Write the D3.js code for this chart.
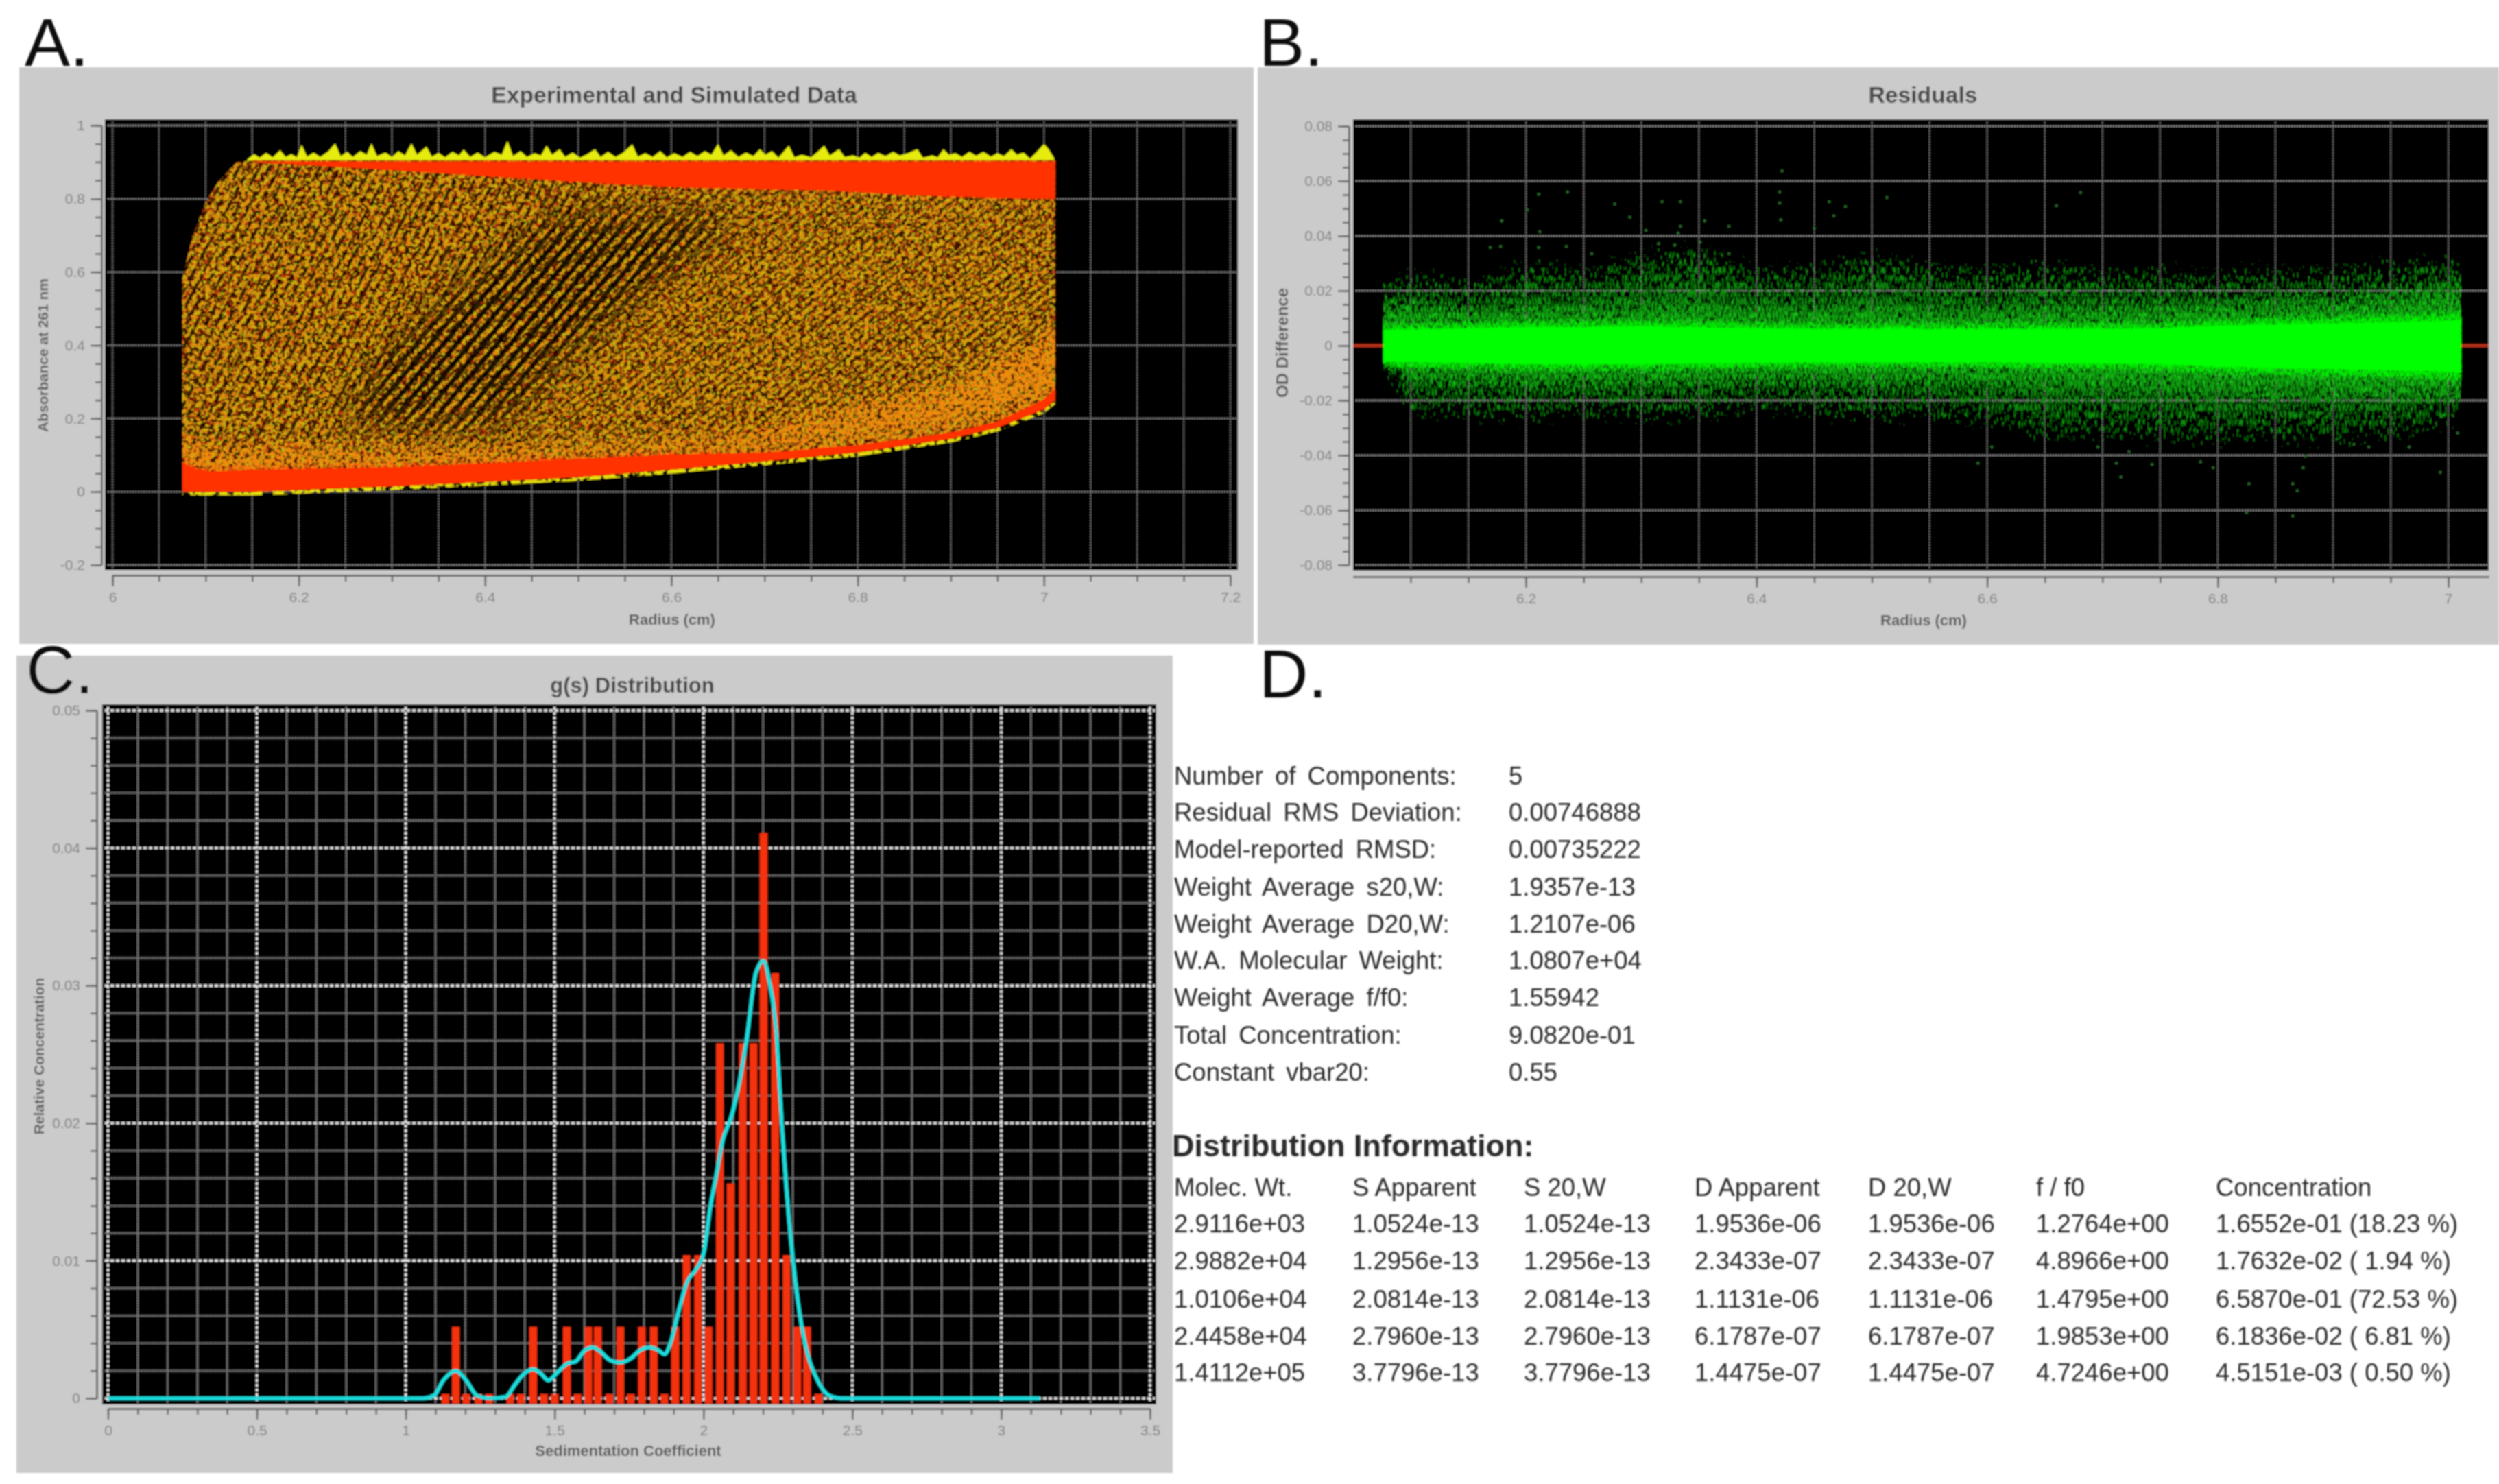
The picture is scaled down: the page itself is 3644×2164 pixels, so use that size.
<!DOCTYPE html>
<html>
<head>
<meta charset="utf-8">
<title>Sedimentation fit report</title>
<script src="https://cdn.jsdelivr.net/npm/d3@7"></script>
<style>
  html, body { margin: 0; padding: 0; background: #fff; }
  svg { display: block; }
  text { font-family: "Liberation Sans", Arial, sans-serif; }
</style>
</head>
<body>
<div id="chart"></div>
<script>
// ---- panel A: values ----
const envR       = [6.075, 6.086, 6.100, 6.114, 6.133, 6.152, 6.174, 6.300, 6.400, 6.500, 6.600, 6.700, 6.800, 6.900, 6.950, 7.000, 7.012];
const envTop     = [0.583, 0.698, 0.790, 0.848, 0.899, 0.905, 0.905, 0.905, 0.905, 0.905, 0.905, 0.905, 0.905, 0.905, 0.905, 0.905, 0.905];
const envBottom  = [0.000, 0.000, 0.000, 0.000, 0.000, 0.000, 0.002, 0.015, 0.027, 0.040, 0.060, 0.083, 0.107, 0.145, 0.175, 0.225, 0.250];
const redLowTop  = [0.088, 0.075, 0.064, 0.064, 0.066, 0.068, 0.069, 0.075, 0.086, 0.098, 0.110, 0.115, 0.135, 0.170, 0.200, 0.260, 0.290];
const denseTop   = [0.170, 0.160, 0.150, 0.150, 0.150, 0.150, 0.150, 0.145, 0.145, 0.150, 0.165, 0.200, 0.260, 0.320, 0.380, 0.450, 0.470];
const plateauR   = [6.150, 6.180, 6.350, 6.537, 6.616, 6.771, 6.861, 6.940, 7.012];
const plateauLow = [0.900, 0.896, 0.870, 0.840, 0.831, 0.822, 0.809, 0.803, 0.800];
const noiseR     = [6.145, 6.152, 6.158, 6.165, 6.172, 6.180, 6.186, 6.192, 6.198, 6.203, 6.209, 6.216, 6.223, 6.232, 6.239, 6.245, 6.252, 6.258, 6.266, 6.273, 6.278, 6.284, 6.293, 6.300, 6.307, 6.314, 6.321, 6.327, 6.337, 6.343, 6.350, 6.357, 6.365, 6.372, 6.377, 6.384, 6.392, 6.400, 6.410, 6.418, 6.424, 6.430, 6.438, 6.445, 6.453, 6.460, 6.466, 6.472, 6.480, 6.486, 6.494, 6.502, 6.510, 6.518, 6.524, 6.532, 6.540, 6.548, 6.558, 6.564, 6.572, 6.580, 6.588, 6.595, 6.603, 6.612, 6.620, 6.628, 6.636, 6.643, 6.650, 6.656, 6.664, 6.672, 6.680, 6.688, 6.695, 6.701, 6.708, 6.715, 6.726, 6.732, 6.740, 6.750, 6.757, 6.764, 6.770, 6.780, 6.786, 6.795, 6.802, 6.808, 6.815, 6.822, 6.830, 6.838, 6.845, 6.854, 6.864, 6.870, 6.880, 6.886, 6.892, 6.898, 6.905, 6.912, 6.920, 6.927, 6.935, 6.943, 6.950, 6.957, 6.965, 6.971, 6.978, 6.985, 6.993, 7.000, 7.005, 7.011];
const noiseTop   = [0.908, 0.922, 0.912, 0.925, 0.913, 0.932, 0.914, 0.922, 0.913, 0.947, 0.915, 0.926, 0.914, 0.930, 0.951, 0.916, 0.928, 0.914, 0.930, 0.920, 0.951, 0.916, 0.926, 0.914, 0.930, 0.918, 0.951, 0.920, 0.942, 0.915, 0.925, 0.913, 0.928, 0.918, 0.934, 0.914, 0.926, 0.913, 0.928, 0.920, 0.958, 0.916, 0.930, 0.914, 0.924, 0.918, 0.945, 0.920, 0.935, 0.914, 0.926, 0.912, 0.922, 0.935, 0.914, 0.928, 0.914, 0.925, 0.948, 0.915, 0.924, 0.914, 0.930, 0.913, 0.924, 0.914, 0.928, 0.916, 0.930, 0.920, 0.949, 0.918, 0.932, 0.914, 0.926, 0.916, 0.935, 0.920, 0.930, 0.912, 0.945, 0.913, 0.920, 0.913, 0.928, 0.945, 0.918, 0.935, 0.914, 0.918, 0.912, 0.925, 0.914, 0.925, 0.916, 0.928, 0.918, 0.924, 0.935, 0.912, 0.918, 0.913, 0.935, 0.920, 0.924, 0.914, 0.928, 0.917, 0.928, 0.915, 0.924, 0.916, 0.935, 0.920, 0.926, 0.909, 0.930, 0.949, 0.935, 0.910];
const clearVal   = [0.180, 0.350, 0.519, 0.620, 0.760];
const clearLeft  = [6.245, 6.285, 6.349, 6.400, 6.470];
const clearRight = [6.420, 6.480, 6.560, 6.610, 6.680];
const splitVal   = [-0.010, 0.219, 0.519, 0.719, 0.910];
const splitR     = [6.200, 6.255, 6.349, 6.457, 6.620];

// ---- panel B ----
const residR   = [6.076, 6.100, 6.150, 6.200, 6.250, 6.300, 6.350, 6.400, 6.450, 6.500, 6.550, 6.600, 6.650, 6.700, 6.750, 6.800, 6.850, 6.900, 6.950, 7.000, 7.011];
const coreTop  = [0.0065, 0.0065, 0.0070, 0.0075, 0.0075, 0.0078, 0.0075, 0.0070, 0.0068, 0.0068, 0.0068, 0.0068, 0.0068, 0.0068, 0.0070, 0.0080, 0.0085, 0.0090, 0.0095, 0.0100, 0.0105];
const coreLow  = [-0.0065, -0.0068, -0.0070, -0.0075, -0.0075, -0.0075, -0.0072, -0.0070, -0.0068, -0.0068, -0.0068, -0.0068, -0.0070, -0.0072, -0.0075, -0.0085, -0.0090, -0.0095, -0.0100, -0.0105, -0.0110];
const midTop   = [0.0190, 0.0180, 0.0160, 0.0170, 0.0170, 0.0180, 0.0180, 0.0170, 0.0170, 0.0170, 0.0165, 0.0165, 0.0170, 0.0175, 0.0180, 0.0190, 0.0190, 0.0200, 0.0210, 0.0240, 0.0260];
const midLow   = [-0.0090, -0.0160, -0.0160, -0.0170, -0.0170, -0.0170, -0.0165, -0.0160, -0.0160, -0.0165, -0.0165, -0.0170, -0.0175, -0.0185, -0.0190, -0.0200, -0.0210, -0.0210, -0.0220, -0.0220, -0.0220];
const farTop   = [0.0240, 0.0270, 0.0250, 0.0310, 0.0290, 0.0340, 0.0370, 0.0290, 0.0300, 0.0340, 0.0310, 0.0290, 0.0310, 0.0280, 0.0290, 0.0280, 0.0290, 0.0290, 0.0310, 0.0330, 0.0340];
const farLow   = [-0.0100, -0.0260, -0.0270, -0.0280, -0.0260, -0.0280, -0.0270, -0.0240, -0.0260, -0.0280, -0.0270, -0.0300, -0.0340, -0.0340, -0.0350, -0.0360, -0.0350, -0.0360, -0.0340, -0.0300, -0.0260];
const strayR   = [6.422, 6.211, 6.236, 6.201, 6.277, 6.290, 6.318, 6.334, 6.420, 6.420, 6.421, 6.463, 6.477, 6.467, 6.513, 6.179, 6.334, 6.355, 6.376, 6.450, 6.212, 6.332, 6.304, 6.169, 6.178, 6.211, 6.235, 6.257, 6.315, 6.329, 6.351, 6.355, 6.376, 6.681, 6.660, 6.716, 6.865, 6.869, 6.827, 6.865, 6.825, 6.796, 6.712, 6.743, 6.785, 6.874, 6.993, 6.876, 6.592, 6.604, 6.696, 6.723, 6.918, 6.931, 6.966, 7.008];
const strayVal = [0.0637, 0.0552, 0.0560, 0.0495, 0.0516, 0.0468, 0.0525, 0.0525, 0.0560, 0.0520, 0.0459, 0.0525, 0.0507, 0.0473, 0.0540, 0.0455, 0.0435, 0.0455, 0.0435, 0.0430, 0.0415, 0.0410, 0.0420, 0.0358, 0.0362, 0.0358, 0.0362, 0.0335, 0.0372, 0.0367, 0.0377, 0.0325, 0.0335, 0.0558, 0.0510, -0.0479, -0.0504, -0.0529, -0.0504, -0.0621, -0.0609, -0.0445, -0.0428, -0.0433, -0.0424, -0.0445, -0.0462, -0.0403, -0.0428, -0.0370, -0.0370, -0.0386, -0.0360, -0.0370, -0.0370, -0.0319];

// ---- panel C ----
const barS    = [1.168, 1.428, 1.541, 1.613, 1.645, 1.721, 1.793, 1.833, 1.905, 1.943, 1.982, 2.017, 2.055, 2.091, 2.132, 2.168, 2.202, 2.241, 2.279, 2.315, 2.348, 1.133, 1.203, 1.244, 1.280, 1.351, 1.387, 1.464, 1.500, 1.577, 1.684, 1.756, 1.869, 2.386];
const barConc = [0.0052, 0.0052, 0.0052, 0.0052, 0.0052, 0.0052, 0.0052, 0.0052, 0.0052, 0.0104, 0.0104, 0.0052, 0.0258, 0.0156, 0.0258, 0.0258, 0.0411, 0.0309, 0.0104, 0.0052, 0.0052, 0.0003, 0.0003, 0.0003, 0.0003, 0.0003, 0.0003, 0.0003, 0.0003, 0.0003, 0.0003, 0.0003, 0.0003, 0.0003];
const fitS    = [0, 1.060, 1.095, 1.126, 1.168, 1.203, 1.239, 1.285, 1.336, 1.367, 1.398, 1.428, 1.454, 1.479, 1.510, 1.541, 1.572, 1.602, 1.628, 1.654, 1.684, 1.720, 1.756, 1.787, 1.818, 1.848, 1.869, 1.889, 1.915, 1.946, 1.976, 2.002, 2.023, 2.043, 2.064, 2.094, 2.120, 2.145, 2.176, 2.202, 2.222, 2.243, 2.263, 2.289, 2.320, 2.350, 2.381, 2.422, 2.463, 3.130];
const fitConc = [0, 0, 0.0002, 0.0013, 0.0020, 0.0013, 0.0002, 0, 0.0001, 0.0010, 0.0018, 0.0021, 0.0018, 0.0013, 0.0019, 0.0025, 0.0027, 0.0035, 0.0037, 0.0034, 0.0028, 0.0026, 0.0029, 0.0035, 0.0037, 0.0035, 0.0032, 0.0040, 0.0062, 0.0085, 0.0094, 0.0107, 0.0139, 0.0162, 0.0187, 0.0205, 0.0229, 0.0261, 0.0309, 0.0318, 0.0302, 0.0270, 0.0200, 0.0126, 0.0066, 0.0032, 0.0014, 0.0002, 0, 0];

// ---- tick labels ----
const xTicksA = [6, 6.2, 6.4, 6.6, 6.8, 7, 7.2];
const yTicksA = [-0.2, 0, 0.2, 0.4, 0.6, 0.8, 1];
const xTicksB = [6.2, 6.4, 6.6, 6.8, 7];
const yTicksB = [-0.08, -0.06, -0.04, -0.02, 0, 0.02, 0.04, 0.06, 0.08];
const xTicksC = [0, 0.5, 1, 1.5, 2, 2.5, 3, 3.5];
const yTicksC = [0, 0.01, 0.02, 0.03, 0.04, 0.05];

// ---- panel D text ----
const statLabels = ["Number of Components:", "Residual RMS Deviation:", "Model-reported RMSD:", "Weight Average s20,W:", "Weight Average D20,W:", "W.A. Molecular Weight:", "Weight Average f/f0:", "Total Concentration:", "Constant vbar20:"];
const statValues = ["5", "0.00746888", "0.00735222", "1.9357e-13", "1.2107e-06", "1.0807e+04", "1.55942", "9.0820e-01", "0.55"];
const distHeaders = ["Molec. Wt.", "S Apparent", "S 20,W", "D Apparent", "D 20,W", "f / f0", "Concentration"];
const molecWt   = ["2.9116e+03", "2.9882e+04", "1.0106e+04", "2.4458e+04", "1.4112e+05"];
const sApparent = ["1.0524e-13", "1.2956e-13", "2.0814e-13", "2.7960e-13", "3.7796e-13"];
const s20w      = ["1.0524e-13", "1.2956e-13", "2.0814e-13", "2.7960e-13", "3.7796e-13"];
const dApparent = ["1.9536e-06", "2.3433e-07", "1.1131e-06", "6.1787e-07", "1.4475e-07"];
const d20w      = ["1.9536e-06", "2.3433e-07", "1.1131e-06", "6.1787e-07", "1.4475e-07"];
const fRatio    = ["1.2764e+00", "4.8966e+00", "1.4795e+00", "1.9853e+00", "4.7246e+00"];
const concText  = ["1.6552e-01 (18.23 %)", "1.7632e-02 ( 1.94 %)", "6.5870e-01 (72.53 %)", "6.1836e-02 ( 6.81 %)", "4.5151e-03 ( 0.50 %)"];

const W = 3644, H = 2164;
const GREY = "#cbcbcb";

const root = d3.select("#chart").append("svg").attr("width", W).attr("height", H)
    .attr("viewBox", `0 0 ${W} ${H}`).style("background", "#fff");
const defs = root.append("defs");

function addStripes(id, gap, angle, color, width) {
    const p = defs.append("pattern").attr("id", id).attr("patternUnits", "userSpaceOnUse")
        .attr("width", gap * 3).attr("height", gap)
        .attr("patternTransform", `rotate(${angle})`);
    p.append("line").attr("x1", 0).attr("x2", gap * 3).attr("y1", gap / 2).attr("y2", gap / 2)
        .attr("stroke", color).attr("stroke-width", width);
}
// breaks a fill up into grains, texture only, no values come out of it
function addGrain(id, freq, cut, seed) {
    const f = defs.append("filter").attr("id", id).attr("x", 0).attr("y", 0).attr("width", 1).attr("height", 1)
        .attr("color-interpolation-filters", "sRGB");
    f.append("feTurbulence").attr("type", "fractalNoise").attr("baseFrequency", freq)
        .attr("numOctaves", 2).attr("seed", seed).attr("result", "n");
    f.append("feColorMatrix").attr("in", "n").attr("type", "matrix")
        .attr("values", `0 0 0 0 0  0 0 0 0 0  0 0 0 0 0  12 0 0 0 ${-cut * 12}`).attr("result", "m");
    f.append("feComposite").attr("in", "SourceGraphic").attr("in2", "m").attr("operator", "in");
}
// same idea, but the grains thin out towards the edge of the shape
function addFade(id, freq, blurY, cut, color, seed) {
    const f = defs.append("filter").attr("id", id).attr("x", 0).attr("y", -0.8).attr("width", 1).attr("height", 2.6)
        .attr("color-interpolation-filters", "sRGB");
    f.append("feGaussianBlur").attr("in", "SourceAlpha").attr("stdDeviation", `0 ${blurY}`).attr("result", "b");
    f.append("feTurbulence").attr("type", "fractalNoise").attr("baseFrequency", freq)
        .attr("numOctaves", 2).attr("seed", seed).attr("result", "n");
    f.append("feColorMatrix").attr("in", "n").attr("type", "matrix")
        .attr("values", "0 0 0 0 0  0 0 0 0 0  0 0 0 0 0  1.7 0 0 0 -0.35").attr("result", "na");
    f.append("feComposite").attr("in", "b").attr("in2", "na").attr("operator", "arithmetic")
        .attr("k1", 1).attr("k2", 0).attr("k3", 0).attr("k4", 0).attr("result", "m");
    const ct = f.append("feComponentTransfer").attr("in", "m").attr("result", "t");
    ct.append("feFuncA").attr("type", "linear").attr("slope", 12).attr("intercept", -12 * cut);
    f.append("feFlood").attr("flood-color", color).attr("result", "c");
    f.append("feComposite").attr("in", "c").attr("in2", "t").attr("operator", "in");
}
addStripes("darkSteep", 13, -62, "#140400", 5);
addStripes("darkShallow", 10.5, -38, "#140400", 4);
addStripes("darkClear", 15, -50, "#000", 7);
addGrain("grainRed", "0.2 0.2", 0.50, 31);
addGrain("grainOrange", "0.15 0.15", 0.49, 4);
addGrain("grainYellow", "0.2 0.2", 0.54, 9);
addGrain("grainLime", "0.3 0.3", 0.66, 21);
addGrain("grainCut", "0.12 0.12", 0.42, 15);
addFade("fadeOrange", "0.2 0.2", 26, 0.40, "#f08a10", 12);
addFade("fadeRed", "0.25 0.25", 14, 0.30, "#ff4408", 17);
addFade("resFar", "0.5 0.09", 55, 0.41, "#0c8c0c", 2);
addFade("resMid", "0.55 0.11", 26, 0.43, "#12bc12", 6);
addFade("resCoreFray", "0.6 0.16", 11, 0.26, "#00f400", 8);
defs.append("filter").attr("id", "soft").attr("filterUnits", "userSpaceOnUse")
    .attr("x", 0).attr("y", 0).attr("width", W).attr("height", H)
    .append("feGaussianBlur").attr("stdDeviation", 0.9);
defs.append("filter").attr("id", "wideBlur").attr("filterUnits", "userSpaceOnUse")
    .attr("x", 0).attr("y", 0).attr("width", W).attr("height", H)
    .append("feGaussianBlur").attr("stdDeviation", 24);

const page = root.append("g").attr("filter", "url(#soft)");

function zipR(rs, a, b) { return rs.map((r, i) => ({ r, a: a[i], b: b[i] })); }
function stepped(lo, hi, step) {
    const n = Math.round((hi - lo) / step);
    return d3.range(n + 1).map(i => +(lo + i * step).toFixed(6));
}

function drawPanel(o) {
    const g = page.append("g");
    g.append("rect").attr("x", o.box[0]).attr("y", o.box[1]).attr("width", o.box[2] - o.box[0]).attr("height", o.box[3] - o.box[1]).attr("fill", GREY);
    g.append("rect").attr("x", o.plot[0]).attr("y", o.plot[1]).attr("width", o.plot[2] - o.plot[0]).attr("height", o.plot[3] - o.plot[1]).attr("fill", "#000");

    const clipId = "clip" + o.id;
    defs.append("clipPath").attr("id", clipId).append("rect")
        .attr("x", o.plot[0]).attr("y", o.plot[1]).attr("width", o.plot[2] - o.plot[0]).attr("height", o.plot[3] - o.plot[1]);

    const grid = g.append("g");
    const gridV = grid.selectAll(".v").data(o.gridX).join("line")
        .attr("x1", d => o.x(d)).attr("x2", d => o.x(d)).attr("y1", o.plot[1] + 4).attr("y2", o.plot[3] - 2)
        .attr("stroke", "#8e8e8e").attr("stroke-width", 1.5).attr("stroke-dasharray", "2 2");
    const gridH = grid.selectAll(".h").data(o.gridY).join("line")
        .attr("x1", o.plot[0] + 4).attr("x2", o.plot[2] - 2).attr("y1", d => o.y(d)).attr("y2", d => o.y(d))
        .attr("stroke", "#9c9c9c").attr("stroke-width", 2).attr("stroke-dasharray", "2 2");
    if (o.styleGrid) o.styleGrid(gridV, gridH);

    const marks = g.append("g").attr("clip-path", `url(#${clipId})`);

    const axisCol = "#666", tickCol = "#7f7f7f";
    function axis(gen, at) {
        const a = g.append("g").attr("transform", at).call(gen);
        a.select(".domain").attr("stroke", axisCol).attr("stroke-width", 3);
        a.selectAll(".tick line").attr("stroke", axisCol).attr("stroke-width", 2.5);
        a.selectAll("text").attr("fill", tickCol).attr("font-size", 21).attr("font-family", '"Liberation Sans"');
        return a;
    }
    const ax = o.axisAt;
    axis(d3.axisBottom(o.x).tickValues(o.minorX).tickSize(9).tickSizeOuter(0).tickFormat(""), `translate(0,${ax.y})`).selectAll("text").remove();
    axis(d3.axisBottom(o.x).tickValues(o.majorX).tickSize(16).tickSizeOuter(0).tickPadding(8).tickFormat(d => String(d)), `translate(0,${ax.y})`);
    axis(d3.axisLeft(o.y).tickValues(o.minorY).tickSize(9).tickSizeOuter(0).tickFormat(""), `translate(${ax.x},0)`).selectAll("text").remove();
    axis(d3.axisLeft(o.y).tickValues(o.majorY).tickSize(16).tickSizeOuter(0).tickPadding(8).tickFormat(d => String(d)), `translate(${ax.x},0)`);

    g.append("text").attr("x", o.title[1]).attr("y", o.title[2]).attr("text-anchor", "middle")
        .attr("font-size", o.title[3]).attr("font-weight", "bold").attr("fill", "#474747").text(o.title[0]);
    g.append("text").attr("x", o.xLabel[1]).attr("y", o.xLabel[2]).attr("text-anchor", "middle")
        .attr("font-size", 22).attr("font-weight", "bold").attr("fill", "#5a5a5a").text(o.xLabel[0]);
    g.append("text").attr("transform", `translate(${o.yLabel[1]},${o.yLabel[2]}) rotate(-90)`).attr("text-anchor", "middle")
        .attr("font-size", o.yLabel[3]).attr("font-weight", "bold").attr("fill", "#5a5a5a").text(o.yLabel[0]);
    return marks;
}

// ---- panel A ----
const xA = d3.scaleLinear().domain([6, 7.2]).range([164, 1794]);
const yA = d3.scaleLinear().domain([-0.2, 1]).range([824, 183]);
const marksA = drawPanel({
    id: "A", box: [28, 98, 1828, 939], plot: [153, 174, 1805, 831], x: xA, y: yA,
    gridX: stepped(6, 7.2, 0.05), gridY: yTicksA,
    minorX: stepped(6, 7.2, 0.05), majorX: xTicksA, minorY: stepped(-0.2, 1, 0.05), majorY: yTicksA,
    axisAt: { x: 148, y: 839 },
    title: ["Experimental and Simulated Data", 983, 150, 33.7],
    xLabel: ["Radius (cm)", 980, 911], yLabel: ["Absorbance at 261 nm", 70, 518, 21]
});
const envArea = d3.area().x(d => xA(d.r)).y0(d => yA(d.a)).y1(d => yA(d.b));
const sideArea = d3.area().y(d => yA(d.v)).x0(d => xA(d.l)).x1(d => xA(d.h));
const envRows = zipR(envR, envBottom, envTop);
const denseRows = zipR(envR, envBottom, denseTop);
const redFadeRows = zipR(envR, envBottom, redLowTop);
const underRows = zipR(envR, envBottom.map(v => v - 0.010), envBottom);
const clearRows = clearVal.map((v, i) => ({ v, l: clearLeft[i], h: clearRight[i] }));
const leftRows = splitVal.map((v, i) => ({ v, l: 6.0, h: splitR[i] }));
const rightRows = splitVal.map((v, i) => ({ v, l: splitR[i], h: 7.1 }));
const plateauRows = zipR(plateauR, plateauLow, plateauR.map(() => 0.902));

defs.append("clipPath").attr("id", "envClip").append("path").datum(envRows).attr("d", envArea);
defs.append("mask").attr("id", "clearMask").attr("maskUnits", "userSpaceOnUse")
    .attr("x", 0).attr("y", 0).attr("width", W).attr("height", H)
    .append("path").datum(clearRows).attr("d", sideArea).attr("fill", "#fff").attr("filter", "url(#wideBlur)");

marksA.append("path").datum(zipR(noiseR, noiseR.map(() => 0.9), noiseTop)).attr("d", envArea).attr("fill", "#e6ec10");
marksA.append("path").datum(underRows).attr("d", envArea).attr("fill", "#e8e010").attr("filter", "url(#grainCut)");
marksA.append("path").datum(envRows).attr("d", envArea).attr("fill", "#3a0c00");

const mesh = marksA.append("g").attr("clip-path", "url(#envClip)");
mesh.append("path").datum(envRows).attr("d", envArea).attr("fill", "#bc340a").attr("filter", "url(#grainRed)");
mesh.append("path").datum(envRows).attr("d", envArea).attr("fill", "#e08a0c").attr("filter", "url(#grainOrange)");
mesh.append("path").datum(envRows).attr("d", envArea).attr("fill", "#d0b010").attr("filter", "url(#grainYellow)");
mesh.append("path").datum(envRows).attr("d", envArea).attr("fill", "#86c820").attr("filter", "url(#grainLime)");
mesh.append("path").datum(leftRows).attr("d", sideArea).attr("fill", "url(#darkSteep)").attr("filter", "url(#grainCut)").attr("opacity", 0.75);
mesh.append("path").datum(rightRows).attr("d", sideArea).attr("fill", "url(#darkShallow)").attr("filter", "url(#grainCut)").attr("opacity", 0.6);
mesh.append("g").attr("mask", "url(#clearMask)").append("rect")
    .attr("x", xA(6.1)).attr("y", yA(1)).attr("width", xA(7) - xA(6.1)).attr("height", yA(0) - yA(1))
    .attr("fill", "url(#darkClear)").attr("opacity", 0.85);
mesh.append("path").datum(denseRows).attr("d", envArea).attr("filter", "url(#fadeOrange)");
mesh.append("path").datum(redFadeRows).attr("d", envArea).attr("filter", "url(#fadeRed)");
mesh.append("path").datum(plateauRows).attr("d", envArea).attr("filter", "url(#fadeRed)");

marksA.append("path").datum(zipR(envR, envBottom, redLowTop.map(v => v - 0.008))).attr("d", envArea).attr("fill", "#ff3206");
marksA.append("path").datum(plateauRows).attr("d", envArea).attr("fill", "#ff3206");

// ---- panel B ----
const xB = d3.scaleLinear().domain([6.05, 7.035]).range([1973, 3629]);
const yB = d3.scaleLinear().domain([-0.08, 0.08]).range([824, 184]);
const marksB = drawPanel({
    id: "B", box: [1834, 98, 3644, 940], plot: [1973, 174, 3629, 832], x: xB, y: yB,
    gridX: stepped(6.1, 7, 0.05), gridY: yTicksB,
    minorX: stepped(6.1, 7, 0.05), majorX: xTicksB, minorY: stepped(-0.08, 0.08, 0.005), majorY: yTicksB,
    axisAt: { x: 1967, y: 841 },
    title: ["Residuals", 2804, 150, 33.7],
    xLabel: ["Radius (cm)", 2805, 912], yLabel: ["OD Difference", 1878, 500, 24]
});
const resArea = d3.area().x(d => xB(d.r)).y0(d => yB(d.a)).y1(d => yB(d.b));
marksB.append("line").attr("x1", xB(6.05)).attr("x2", xB(7.035)).attr("y1", yB(0)).attr("y2", yB(0))
    .attr("stroke", "#b8301c").attr("stroke-width", 5);
marksB.append("path").datum(zipR(residR, farLow, farTop)).attr("d", resArea).attr("filter", "url(#resFar)");
marksB.append("path").datum(zipR(residR, midLow, midTop)).attr("d", resArea).attr("filter", "url(#resMid)");
marksB.append("path").datum(zipR(residR, coreLow.map(v => v * 1.15), coreTop.map(v => v * 1.15))).attr("d", resArea).attr("filter", "url(#resCoreFray)");
marksB.append("path").datum(zipR(residR, coreLow.map(v => v * 0.9), coreTop.map(v => v * 0.9))).attr("d", resArea).attr("fill", "#00ff00");
marksB.selectAll(".stray").data(strayR).join("circle").attr("class", "stray")
    .attr("cx", d => xB(d)).attr("cy", (d, i) => yB(strayVal[i])).attr("r", 2).attr("fill", "#2a6f2a");

// ---- panel C ----
const xC = d3.scaleLinear().domain([0, 3.5]).range([157.5, 1677]);
const yC = d3.scaleLinear().domain([0, 0.05]).range([2039, 1036]);
const marksC = drawPanel({
    id: "C", box: [24, 956, 1710, 2148], plot: [149, 1027, 1686, 2048], x: xC, y: yC,
    gridX: stepped(0, 3.5, 0.1), gridY: stepped(0, 0.05, 0.002),
    minorX: stepped(0, 3.5, 0.1), majorX: xTicksC, minorY: stepped(0, 0.05, 0.002), majorY: yTicksC,
    axisAt: { x: 141, y: 2054 },
    title: ["g(s) Distribution", 922, 1010, 31],
    xLabel: ["Sedimentation Coefficient", 916, 2123], yLabel: ["Relative Concentration", 64, 1540, 21],
    styleGrid(v, h) {
        v.attr("stroke", d => xTicksC.includes(d) ? "#e8e8e8" : "#7a7a7a")
         .attr("stroke-width", d => xTicksC.includes(d) ? 3.5 : 2.5)
         .attr("stroke-dasharray", d => xTicksC.includes(d) ? "4 3" : "3 1");
        h.attr("stroke", d => yTicksC.includes(d) ? "#e8e8e8" : "#6e6e6e")
         .attr("stroke-width", d => yTicksC.includes(d) ? 3.5 : 3)
         .attr("stroke-dasharray", d => yTicksC.includes(d) ? "5 3" : "3 1");
    }
});
marksC.selectAll(".bar").data(barS).join("rect").attr("class", "bar")
    .attr("x", d => xC(d) - 5.5).attr("width", 11)
    .attr("y", (d, i) => yC(barConc[i])).attr("height", (d, i) => yC(-0.0004) - yC(barConc[i]))
    .attr("fill", "#f4300c");
marksC.append("path").datum(fitS.map((s, i) => [s, fitConc[i]]))
    .attr("d", d3.line().x(d => xC(d[0])).y(d => yC(d[1])).curve(d3.curveMonotoneX))
    .attr("fill", "none").attr("stroke", "#1fdede").attr("stroke-width", 5.5);

// ---- panel letters ----
const letters = page.append("g").attr("font-size", 99).attr("fill", "#111");
letters.append("text").attr("x", 36).attr("y", 96).text("A.");
letters.append("text").attr("x", 1836).attr("y", 96).text("B.");
letters.append("text").attr("x", 38).attr("y", 1011).text("C.");
letters.append("text").attr("x", 1836).attr("y", 1017).text("D.");

// ---- panel D ----
const info = page.append("g").attr("fill", "#2b2b2b").attr("font-size", 36.5);
const statY = [1144, 1197, 1251, 1306, 1360, 1413, 1467, 1522, 1576];
info.selectAll(".sl").data(statLabels).join("text").attr("class", "sl").attr("x", 1712).attr("y", (d, i) => statY[i]).attr("word-spacing", 7).text(d => d);
info.selectAll(".sv").data(statValues).join("text").attr("class", "sv").attr("x", 2200).attr("y", (d, i) => statY[i]).text(d => d);
info.append("text").attr("x", 1709).attr("y", 1686).attr("font-size", 45).attr("font-weight", "bold").text("Distribution Information:");
const distX = [1712, 1972, 2222, 2471, 2724, 2969, 3231];
const distY = [1744, 1797, 1851, 1907, 1961, 2014];
const distCols = [molecWt, sApparent, s20w, dApparent, d20w, fRatio, concText];
info.selectAll(".dh").data(distHeaders).join("text").attr("class", "dh").attr("x", (d, i) => distX[i]).attr("y", distY[0]).text(d => d);
distCols.forEach((col, c) => {
    info.selectAll(".dc" + c).data(col).join("text").attr("class", "dc" + c)
        .attr("x", distX[c]).attr("y", (d, i) => distY[i + 1]).style("white-space", "pre").text(d => d);
});
</script>
</body>
</html>
